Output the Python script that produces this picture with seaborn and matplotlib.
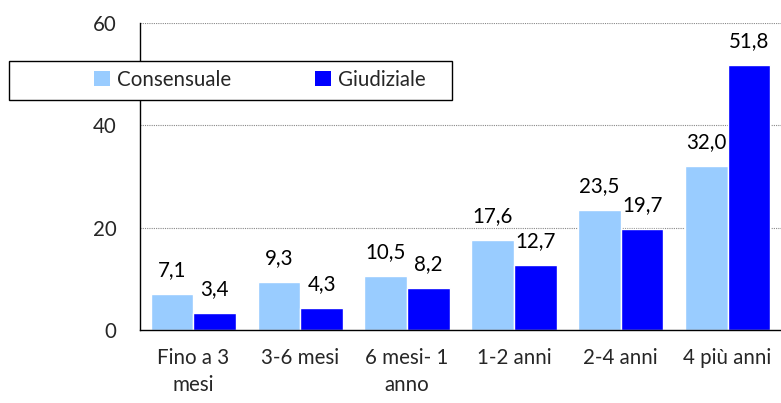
import matplotlib
matplotlib.use("Agg")
import matplotlib.pyplot as plt
import seaborn as sns
import pandas as pd
from matplotlib.patches import Rectangle
from matplotlib.ticker import FixedLocator

categories = ["Fino a 3\nmesi", "3-6 mesi", "6 mesi- 1\nanno", "1-2 anni", "2-4 anni", "4 più anni"]
consensuale = [7.1, 9.3, 10.5, 17.6, 23.5, 32.0]
giudiziale = [3.4, 4.3, 8.2, 12.7, 19.7, 51.8]
series_names = ["Consensuale", "Giudiziale"]
colors = ["#99CCFF", "#0000FF"]
y_ticks = [0, 20, 40, 60]

df = pd.DataFrame({
    "cat": categories * 2,
    "val": consensuale + giudiziale,
    "serie": [series_names[0]] * len(categories) + [series_names[1]] * len(categories),
})

sns.set_style("white")
plt.rcParams["font.family"] = ["Lato", "DejaVu Sans"]
FS = 14.8

fig = plt.figure(figsize=(7.81, 4.03), dpi=100)
ax = fig.add_axes([140 / 781, 73 / 403, 1 - 140 / 781, (330 - 23) / 403])

sns.barplot(data=df, x="cat", y="val", hue="serie", palette=colors, ax=ax,
            width=0.8, saturation=1, legend=False, zorder=2)

for cont in ax.containers:
    labels = [f"{b.get_height():.1f}".replace(".", ",") for b in cont]
    ax.bar_label(cont, labels=labels, padding=10, fontsize=FS, color="black")

ax.set_xlim(-0.5, len(categories) - 0.5)
ax.set_ylim(0, 60)
ax.set_yticks(y_ticks)
ax.set_yticklabels([str(t) for t in y_ticks], fontsize=FS)
ax.set_xticks(range(len(categories)))
ax.set_xticklabels(categories, fontsize=FS, linespacing=1.45)
ax.xaxis.set_minor_locator(FixedLocator([i - 0.5 for i in range(len(categories) + 1)]))
ax.tick_params(axis="x", which="major", length=0, pad=13)
ax.tick_params(axis="x", which="minor", length=6, direction="out", color="black", width=1)
ax.tick_params(axis="y", which="major", length=5, direction="out", color="black", width=1, pad=12)
ax.set_xlabel("")
ax.set_ylabel("")

ax.grid(False)
for t in [20, 40, 60]:
    ax.axhline(t, color="#888888", lw=0.8, ls=(0, (1, 1)), zorder=1)

for s in ["top", "right"]:
    ax.spines[s].set_visible(False)
for s in ["left", "bottom"]:
    ax.spines[s].set_color("black")
    ax.spines[s].set_linewidth(1)
ax.spines["left"].set_zorder(3)

# Legend box
rect = Rectangle((9 / 781, 1 - 100 / 403), (452 - 9) / 781, 39 / 403,
                 transform=fig.transFigure, facecolor="white", edgecolor="black",
                 lw=1, zorder=4)
fig.patches.append(rect)
handles = [Rectangle((0, 0), 1, 1, facecolor=c, edgecolor="none") for c in colors]
fig.legend(handles, series_names, loc="center", bbox_to_anchor=(260 / 781, 1 - 80 / 403),
           ncol=2, frameon=False, fontsize=FS, handlelength=0.75, handleheight=0.75,
           handletextpad=0.35, columnspacing=4.1, borderpad=0)

fig.savefig("out.png", dpi=100)
